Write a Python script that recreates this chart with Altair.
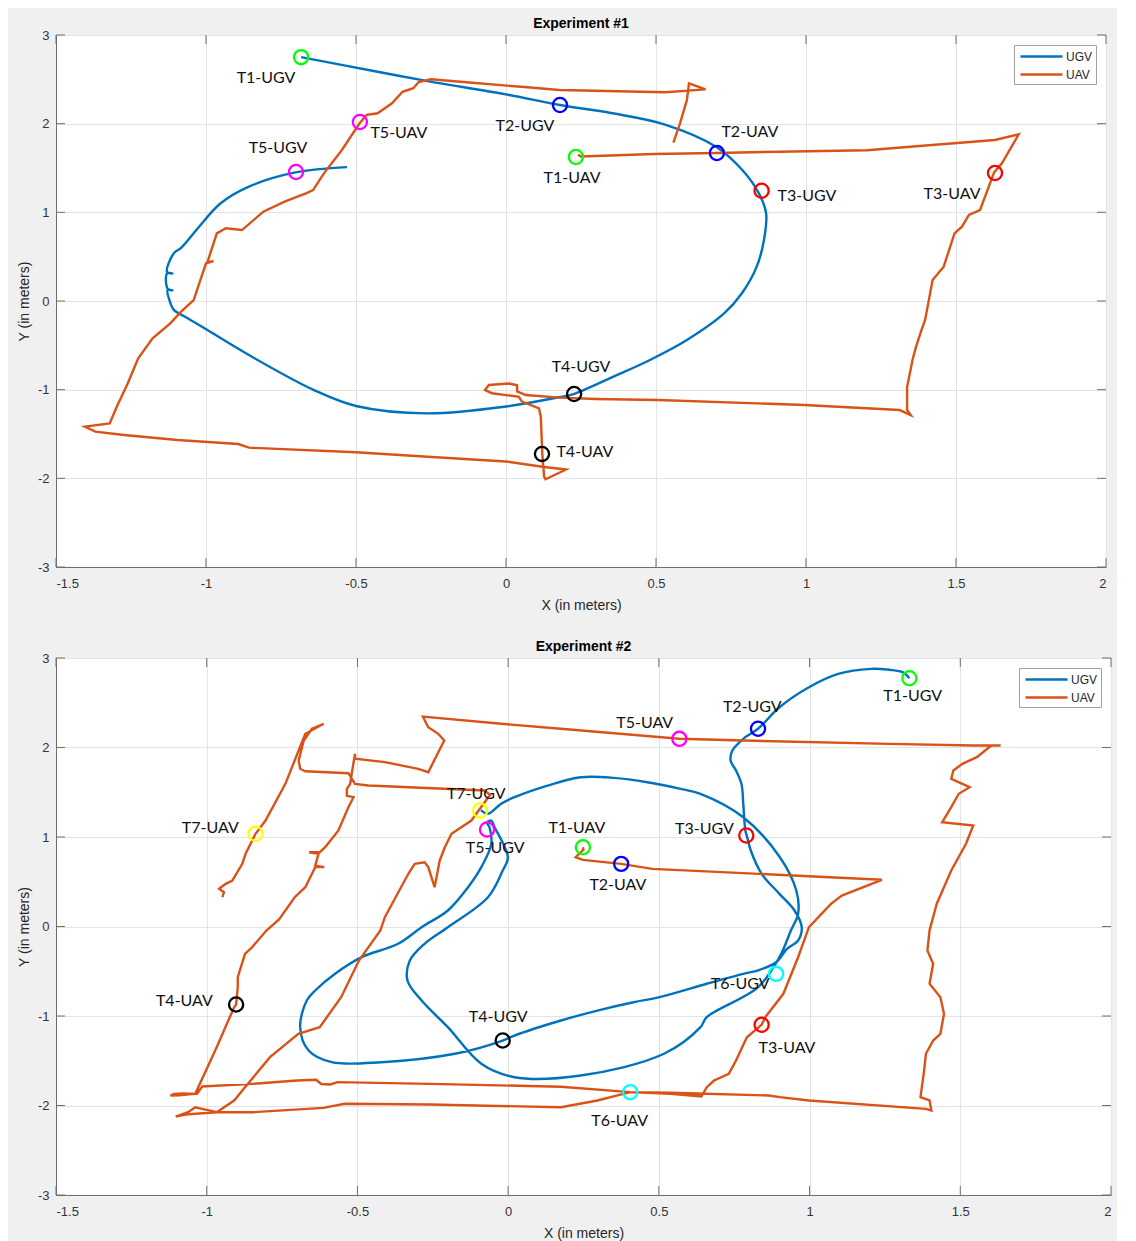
import altair as alt
import pandas as pd

# ---------------- Experiment #1 ----------------
ugv1_x = [-0.683, -0.45, -0.261, 0.0, 0.18, 0.35, 0.53, 0.70, 0.787, 0.842, 0.867, 0.86, 0.836, 0.787, 0.727,
          0.603, 0.48, 0.36, 0.225, 0.177, 0.0, -0.261, -0.5, -0.643, -0.857, -1.023, -1.07, -1.107, -1.122,
          -1.128, -1.112, -1.128, -1.13, -1.112, -1.13, -1.107, -1.083, -1.023, -0.952, -0.857, -0.702, -0.53]
ugv1_y = [2.75, 2.6, 2.48, 2.33, 2.21, 2.12, 1.99, 1.74, 1.48, 1.22, 0.99, 0.69, 0.39, 0.09, -0.14,
          -0.44, -0.665, -0.85, -1.05, -1.085, -1.19, -1.267, -1.184, -1.0, -0.609, -0.27, -0.177, -0.1, 0.01,
          0.12, 0.12, 0.14, 0.31, 0.31, 0.33, 0.54, 0.6, 0.838, 1.1, 1.29, 1.45, 1.51]

uav1_x = [0.24, 0.25, 0.493, 0.703, 0.909, 1.203, 1.42, 1.63, 1.709, 1.653, 1.627, 1.605, 1.58, 1.543, 1.52,
          1.495, 1.459, 1.422, 1.397, 1.385, 1.367, 1.355, 1.337, 1.337, 1.349, 1.312, 0.995, 0.507, 0.3,
          0.177, 0.066, 0.037, 0.037, 0.01, -0.057, -0.07, -0.047, 0.043, 0.053, 0.11, 0.116, 0.121, 0.127,
          0.132, 0.2, 0.121, 0.0, -0.261, -0.5, -0.857, -0.892, -1.095, -1.273, -1.369, -1.404, -1.321,
          -1.297, -1.261, -1.226, -1.178, -1.119, -1.083, -1.041, -1.03, -1.0, -0.975, -0.995, -0.964, -0.934,
          -0.88, -0.809, -0.738, -0.667, -0.643, -0.607, -0.547, -0.488, -0.464, -0.428, -0.38, -0.345,
          -0.309, -0.291, -0.25, -0.142, 0.072, 0.177, 0.531, 0.665, 0.61, 0.603, 0.58, 0.558]
uav1_y = [1.65, 1.63, 1.658, 1.669, 1.684, 1.70, 1.76, 1.816, 1.88, 1.553, 1.45, 1.25, 1.026, 0.97, 0.838,
          0.763, 0.387, 0.237, -0.214, -0.327, -0.515, -0.665, -0.97, -1.229, -1.286, -1.23, -1.173, -1.117,
          -1.105, -1.09, -1.06, -1.02, -0.95, -0.93, -0.947, -1.004, -1.04, -1.08, -1.135, -1.21, -1.305,
          -1.72, -1.98, -2.01, -1.9, -1.87, -1.81, -1.756, -1.706, -1.654, -1.613, -1.568, -1.511, -1.474,
          -1.417, -1.38, -1.19, -0.93, -0.647, -0.421, -0.252, -0.12, 0.011, 0.124, 0.425, 0.45, 0.44, 0.763,
          0.82, 0.8, 1.007, 1.12, 1.215, 1.25, 1.44, 1.703, 2.004, 2.1, 2.117, 2.23, 2.36, 2.40, 2.47, 2.50,
          2.47, 2.41, 2.38, 2.354, 2.387, 2.455, 2.267, 2.004, 1.785]

mk1_name = ["T1-UGV", "T2-UGV", "T3-UGV", "T4-UGV", "T5-UGV", "T1-UAV", "T2-UAV", "T3-UAV", "T4-UAV", "T5-UAV"]
mk1_x = [-0.683, 0.18, 0.852, 0.227, -0.70, 0.233, 0.703, 1.63, 0.12, -0.487]
mk1_y = [2.75, 2.21, 1.244, -1.049, 1.455, 1.624, 1.669, 1.444, -1.725, 2.019]
lb1_x = [-0.80, 0.063, 1.003, 0.25, -0.76, 0.22, 0.813, 1.487, 0.263, -0.357]
lb1_y = [2.52, 1.97, 1.184, -0.744, 1.725, 1.387, 1.906, 1.207, -1.703, 1.895]

# ---------------- Experiment #2 ----------------
ugv2_x = [1.331, 1.31, 1.265, 1.204, 1.095, 0.998, 0.90, 0.829, 0.78, 0.744, 0.738, 0.756, 0.774, 0.78, 0.787,
          0.793, 0.805, 0.841, 0.90, 0.95, 0.974, 0.962, 0.925, 0.889, 0.83, 0.78, 0.659, 0.502, 0.416, 0.296,
          0.175, 0.021, -0.018, -0.177, -0.42, -0.585, -0.662, -0.69, -0.668, -0.64, -0.574, -0.486, -0.365,
          -0.287, -0.2, -0.133, -0.089, -0.056, -0.062, -0.07, -0.056, -0.045, -0.001, -0.018, -0.067, -0.2,
          -0.277, -0.326, -0.334, -0.287, -0.2, -0.089, 0.021, 0.241, 0.517, 0.638, 0.659, 0.829, 0.9, 0.938,
          0.962, 0.956, 0.9015, 0.78, 0.638, 0.572, 0.462, 0.351, 0.241, 0.131, 0.021, -0.023, -0.067, -0.09]
ugv2_y = [2.774, 2.84, 2.868, 2.879, 2.823, 2.674, 2.45, 2.209, 2.097, 1.966, 1.855, 1.743, 1.594, 1.371, 1.073,
          0.998, 0.849, 0.589, 0.365, 0.179, -0.007, -0.156, -0.25, -0.40, -0.49, -0.529, -0.64, -0.79, -0.846,
          -0.939, -1.05, -1.218, -1.274, -1.422, -1.516, -1.516, -1.385, -1.125, -0.827, -0.715, -0.528,
          -0.343, -0.193, -0.008, 0.179, 0.439, 0.663, 0.924, 1.11, 1.16, 1.184, 1.11, 0.774, 0.626, 0.327,
          -0.008, -0.193, -0.38, -0.603, -0.827, -1.125, -1.534, -1.684, -1.665, -1.422, -1.125, -1.013,
          -0.678, -0.343, -0.045, 0.142, 0.402, 0.774, 1.221, 1.483, 1.538, 1.612, 1.661, 1.668, 1.575, 1.445,
          1.371, 1.259, 1.30]

uav2_x = [0.248, 0.25, 0.224, 0.248, 0.375, 0.478, 0.78, 1.24, 1.107, 1.071, 0.998, 0.974, 0.962, 0.913, 0.853,
          0.841, 0.792, 0.756, 0.732, 0.683, 0.659, 0.641, 0.539, 0.405, 0.175, -0.259, -0.566, -0.59, -0.62,
          -0.637, -0.7, -0.849, -1.015, -1.032, -1.08, -1.109, -1.12, -1.09, -1.06, -1.038, -0.967, -0.909,
          -0.9025, -0.897, -0.897, -0.873, -0.849, -0.802, -0.76, -0.708, -0.673, -0.64, -0.61, -0.64, -0.629,
          -0.66, -0.625, -0.607, -0.563, -0.53, -0.513, -0.535, -0.535, -0.524, -0.519, -0.508, -0.508,
          -0.409, -0.298, -0.265, -0.212, -0.232, -0.265, -0.283, -0.023, 0.175, 0.568, 0.78, 1.265, 1.543,
          1.634, 1.603, 1.555, 1.507, 1.477, 1.47, 1.531, 1.495, 1.47, 1.44, 1.543, 1.519, 1.47, 1.422, 1.398,
          1.391, 1.41, 1.398, 1.434, 1.446, 1.434, 1.41, 1.386, 1.38, 1.368, 1.398, 1.404, 1.386, 0.998,
          0.9015, 0.865, 0.539, 0.405, 0.296, 0.175, -0.259, -0.542, -0.613, -0.849, -0.967, -1.015, -1.038,
          -1.062, -1.103, -1.07, -0.967, -0.909, -0.873, -0.79, -0.696, -0.625, -0.554, -0.495, -0.424,
          -0.409, -0.331, -0.31, -0.277, -0.265, -0.244, -0.227, -0.21, -0.188, -0.122, -0.078, -0.06, -0.078,
          -0.464, -0.508, -0.53, -0.673, -0.69, -0.695, -0.678, -0.651, -0.612, -0.673, -0.739, -0.805,
          -0.838, -0.871, -0.882, -0.915, -0.937, -0.959, -0.943, -0.948]
uav2_y = [0.886, 0.86, 0.774, 0.745, 0.70, 0.644, 0.596, 0.522, 0.346, 0.253, -0.007, -0.231, -0.343, -0.752,
          -1.013, -1.098, -1.237, -1.497, -1.646, -1.721, -1.796, -1.9, -1.87, -1.851, -1.79, -1.758, -1.739,
          -1.765, -1.76, -1.713, -1.72, -1.758, -1.788, -1.87, -1.865, -1.87, -1.89, -1.885, -1.875, -1.87,
          -1.348, -0.902, -0.872, -0.678, -0.566, -0.305, -0.23, -0.045, 0.08, 0.327, 0.439, 0.663, 0.663,
          0.68, 0.812, 0.83, 0.83, 0.886, 1.073, 1.333, 1.445, 1.46, 1.538, 1.594, 1.706, 1.93, 1.874, 1.836,
          1.762, 1.724, 2.078, 2.153, 2.227, 2.346, 2.265, 2.209, 2.097, 2.078, 2.041, 2.022, 2.022, 2.022,
          1.892, 1.818, 1.743, 1.65, 1.556, 1.483, 1.333, 1.165, 1.128, 0.924, 0.626, 0.254, -0.045, -0.268,
          -0.417, -0.64, -0.79, -0.975, -1.199, -1.274, -1.422, -1.609, -1.907, -1.944, -2.056, -2.037, -1.944,
          -1.907, -1.888, -1.858, -1.851, -1.944, -2.02, -1.989, -1.981, -2.026, -2.075, -2.075, -2.037, -2.02,
          -2.075, -2.123, -2.1, -2.075, -1.944, -1.796, -1.46, -1.199, -1.125, -0.79, -0.38, -0.045, 0.104,
          0.589, 0.70, 0.718, 0.663, 0.439, 0.737, 0.886, 1.036, 1.184, 1.389, 1.47, 1.52, 1.575, 1.594, 1.713,
          1.735, 1.762, 1.855, 2.078, 2.209, 2.265, 2.153, 1.594, 1.184, 1.036, 0.812, 0.70, 0.514, 0.477,
          0.421, 0.383, 0.327]

mk2_name = ["T1-UGV", "T2-UGV", "T3-UGV", "T4-UGV", "T5-UGV", "T6-UGV", "T7-UGV",
            "T1-UAV", "T2-UAV", "T3-UAV", "T4-UAV", "T5-UAV", "T6-UAV", "T7-UAV"]
mk2_x = [1.331, 0.829, 0.79, -0.018, -0.07, 0.889, -0.093, 0.248, 0.375, 0.841, -0.9025, 0.568, 0.405, -0.838]
mk2_y = [2.774, 2.209, 1.017, -1.274, 1.084, -0.529, 1.296, 0.886, 0.70, -1.098, -0.872, 2.097, -1.851, 1.036]
lb2_x = [1.342, 0.81, 0.651, -0.033, -0.043, 0.77, -0.106, 0.228, 0.364, 0.925, -1.074, 0.453, 0.37, -0.988]
lb2_y = [2.581, 2.447, 1.084, -1.006, 0.872, -0.648, 1.475, 1.095, 0.469, -1.363, -0.827, 2.279, -2.168, 1.095]

x_ticks = [-1.5, -1.0, -0.5, 0.0, 0.5, 1.0, 1.5, 2.0]
y_ticks = [-3, -2, -1, 0, 1, 2, 3]

T_COLORS = {"T1": "#00ff00", "T2": "#0000ff", "T3": "#ff0000", "T4": "#000000",
            "T5": "#ff00ff", "T6": "#00ffff", "T7": "#ffff00"}
AXC = "#6e6e6e"
TICK = 9
COLOR_SCALE = alt.Scale(domain=["UGV", "UAV"], range=["#0072BD", "#D95319"])


def panel(title, ugx, ugy, uax, uay, mname, mx, my, lx, ly, w, h):
    ugv = pd.DataFrame({"x": ugx, "y": ugy, "veh": "UGV", "i": list(range(len(ugx)))})
    uav = pd.DataFrame({"x": uax, "y": uay, "veh": "UAV", "i": list(range(len(uax)))})
    marks = pd.DataFrame({"x": mx, "y": my, "c": [T_COLORS[n[:2]] for n in mname]})
    labels = pd.DataFrame({"x": lx, "y": ly, "t": mname})
    xt = pd.DataFrame({"x": x_ticks})
    yt = pd.DataFrame({"y": y_ticks})

    sx = alt.Scale(domain=[-1.5, 2], nice=False, zero=False)
    sy = alt.Scale(domain=[-3, 3], nice=False, zero=False)
    X = alt.X("x:Q", scale=sx, axis=alt.Axis(values=x_ticks, title="X (in meters)",
                                               labelExpr="'' + datum.value", labelPadding=10,
                                               titlePadding=8))
    Y = alt.Y("y:Q", scale=sy, axis=alt.Axis(values=y_ticks, title="Y (in meters)",
                                               labelExpr="'' + datum.value", labelPadding=7,
                                               titlePadding=6))
    color = alt.Color("veh:N", scale=COLOR_SCALE,
                      legend=alt.Legend(title=None, orient="top-right", offset=10, padding=3,
                                        fillColor="white", strokeColor="#a0a0a0",
                                        symbolType="M-3,0H3", symbolSize=196, symbolStrokeWidth=2.5,
                                        symbolOffset=16, labelOffset=16,
                                        labelFont="Liberation Sans", labelFontSize=12,
                                        labelColor="#262626", rowPadding=3))

    ugv_layer = alt.Chart(ugv).mark_line(strokeWidth=2.4, clip=True, interpolate="catmull-rom").encode(
        x=X, y=Y, color=color, order="i:Q")
    uav_layer = alt.Chart(uav).mark_line(strokeWidth=2.4, clip=True).encode(
        x=X, y=Y, color=color, order="i:Q")
    mark_layer = alt.Chart(marks).mark_point(shape="circle", filled=False, size=200, strokeWidth=2.3,
                                             opacity=1).encode(
        x=X, y=Y, stroke=alt.Stroke("c:N", scale=None))
    text_layer = alt.Chart(labels).mark_text(font="Lato", fontSize=16, color="#111111",
                                             align="center", baseline="middle").encode(
        x=X, y=Y, text="t:N")
    tb = alt.Chart(xt).mark_rule(color=AXC, strokeWidth=1).encode(
        x=X, y=alt.value(h), y2=alt.value(h - TICK))
    tt = alt.Chart(xt).mark_rule(color=AXC, strokeWidth=1).encode(
        x=X, y=alt.value(0), y2=alt.value(TICK))
    tl = alt.Chart(yt).mark_rule(color=AXC, strokeWidth=1).encode(
        y=Y, x=alt.value(0), x2=alt.value(TICK))
    tr = alt.Chart(yt).mark_rule(color=AXC, strokeWidth=1).encode(
        y=Y, x=alt.value(w), x2=alt.value(w - TICK))

    return alt.layer(tb, tt, tl, tr, ugv_layer, uav_layer, mark_layer, text_layer).properties(
        width=w, height=h,
        title=alt.TitleParams(title, font="Liberation Sans", fontSize=14, fontWeight="bold",
                              color="#000000", anchor="middle", offset=-2),
    )


p1 = panel("Experiment #1", ugv1_x, ugv1_y, uav1_x, uav1_y, mk1_name, mk1_x, mk1_y, lb1_x, lb1_y, 1050, 532)
p2 = panel("Experiment #2", ugv2_x, ugv2_y, uav2_x, uav2_y, mk2_name, mk2_x, mk2_y, lb2_x, lb2_y, 1055, 537)

chart = alt.vconcat(p1, p2, spacing=26).resolve_scale(color="independent").resolve_legend(
    color="independent").properties(
    padding={"left": 8, "top": 8, "right": 5, "bottom": 5},
    background="#f0f0f0",
).configure_view(fill="white", stroke=AXC, strokeWidth=1).configure_axis(
    labelFont="Liberation Sans", labelFontSize=13, labelColor="#333333",
    titleFont="Liberation Sans", titleFontSize=14, titleFontWeight="normal", titleColor="#262626",
    grid=True, gridColor="#e3e3e3", gridWidth=1, ticks=False, domain=True, domainColor=AXC,
)

chart.save("out.html", embed_options={"renderer": "svg", "actions": False})
